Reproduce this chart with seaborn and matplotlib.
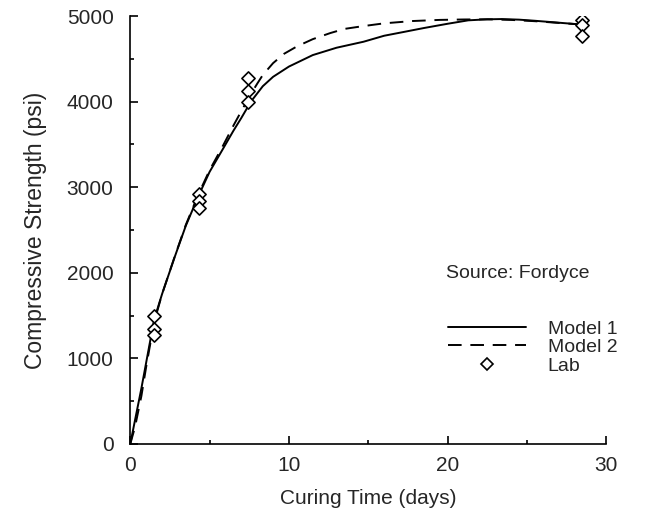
import numpy as np
import pandas as pd
import matplotlib
matplotlib.use("Agg")
import matplotlib.pyplot as plt
import seaborn as sns
from matplotlib.lines import Line2D

sns.set_style("white")
plt.rcParams['font.family'] = ['Liberation Sans', 'DejaVu Sans']

# Model curves
m1_days = [0, 0.3, 0.7, 1.0, 1.5, 2.0, 2.8, 3.5, 4.3, 5.0, 5.8, 6.5, 7.0, 7.6, 8.35, 9.0, 10.0,
           11.5, 13.0, 14.7, 16.0, 17.2, 18.5, 20.0, 21.3, 22.5, 23.4, 24.5, 25.5, 26.5, 27.5, 28.5]
m1_psi = [0, 280, 650, 950, 1450, 1750, 2185, 2550, 2900, 3180, 3435, 3660, 3810, 4000, 4180, 4290, 4410,
          4544, 4630, 4700, 4770, 4813, 4860, 4910, 4950, 4962, 4965, 4958, 4945, 4930, 4915, 4900]
m2_days = [0, 0.3, 0.7, 1.0, 1.5, 2.0, 2.8, 3.5, 4.3, 5.0, 5.8, 6.5, 7.0, 7.6, 8.0, 8.35, 9.0, 9.7, 10.5,
           11.5, 12.6, 13.5, 14.7, 16.0, 17.8, 19.5, 21.0, 22.5, 24.0, 25.5, 27.0, 28.5]
m2_psi = [0, 200, 560, 900, 1420, 1750, 2190, 2560, 2920, 3200, 3470, 3720, 3890, 4090, 4210, 4311, 4450, 4560, 4645,
          4730, 4801, 4850, 4883, 4915, 4942, 4955, 4960, 4962, 4955, 4940, 4920, 4900]

# Lab data
lab_days = [1.5, 1.5, 1.5, 4.3, 4.3, 4.3, 7.4, 7.4, 7.4, 28.5, 28.5, 28.5]
lab_psi = [1500, 1340, 1270, 2920, 2840, 2760, 4280, 4130, 4000, 4950, 4900, 4770]

fig = plt.figure(figsize=(6.45, 5.18), dpi=100)
ax = fig.add_axes([0.202, 0.143, 0.738, 0.826])

df1 = pd.DataFrame({"days": m1_days, "psi": m1_psi})
df2 = pd.DataFrame({"days": m2_days, "psi": m2_psi})
dfl = pd.DataFrame({"days": lab_days, "psi": lab_psi})

dash = (0, (7, 4.5))
sns.lineplot(data=df1, x="days", y="psi", ax=ax, color="black", lw=1.4, sort=False)
sns.lineplot(data=df2, x="days", y="psi", ax=ax, color="black", lw=1.4, sort=False,
             linestyle=dash)
ax.scatter(dfl["days"], dfl["psi"], marker="D", s=45, facecolors="white",
           edgecolors="black", linewidths=1.2, zorder=5)

ax.set_xlim(0, 30)
ax.set_ylim(0, 5000)
ax.set_xticks([0, 10, 20, 30])
ax.set_xticks([5, 15, 25], minor=True)
ax.set_yticks([0, 1000, 2000, 3000, 4000, 5000])
ax.set_yticks([500, 1500, 2500, 3500, 4500], minor=True)
ax.tick_params(which="both", direction="in", color="black", width=1.2,
               bottom=True, left=True, top=False, right=False)
ax.tick_params(which="major", length=6, labelsize=15)
ax.tick_params(which="minor", length=3)
ax.tick_params(axis="x", which="major", pad=9)
ax.tick_params(axis="y", which="major", pad=12)
for s in ["top", "right"]:
    ax.spines[s].set_visible(False)
for s in ["left", "bottom"]:
    ax.spines[s].set_color("black")
    ax.spines[s].set_linewidth(1.2)

ax.set_xlabel("Curing Time (days)", fontsize=15, labelpad=10)
ax.set_ylabel("Compressive Strength (psi)", fontsize=16.5, labelpad=14)

ax.text(0.663, 0.398, "Source: Fordyce", transform=ax.transAxes, fontsize=14,
        ha="left", va="center")
handles = [
    Line2D([], [], color="black", lw=1.4),
    Line2D([], [], color="black", lw=1.4, linestyle=dash),
    Line2D([], [], color="white", marker="D", markersize=6.5, markerfacecolor="white",
           markeredgecolor="black", markeredgewidth=1.2, linestyle="none"),
]
ax.legend(handles, ["Model 1", "Model 2", "Lab"], loc="upper left",
          bbox_to_anchor=(0.652, 0.308), frameon=False, fontsize=14,
          handlelength=4.0, labelspacing=0.05, handletextpad=1.1, borderaxespad=0)

fig.savefig("out.png", dpi=100)
